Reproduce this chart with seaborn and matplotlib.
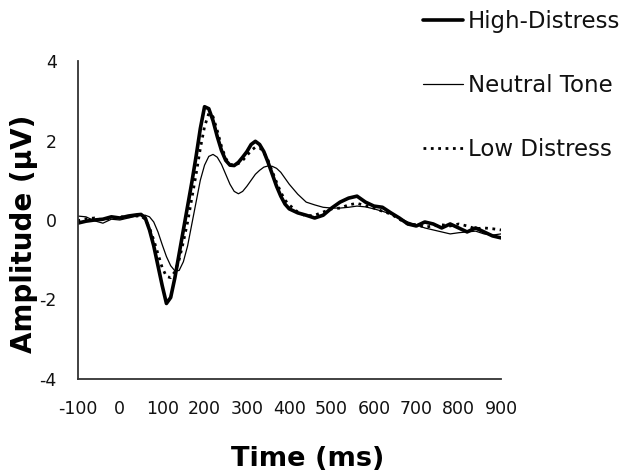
import matplotlib
matplotlib.use("Agg")
import matplotlib.pyplot as plt
import pandas as pd
import seaborn as sns

# time points (ms)
times = [-100, -80, -60, -40, -20, 0, 20, 40,
         50, 60, 70, 80, 90, 100, 110, 120, 130, 140, 150, 160, 170, 180,
         190, 200, 210, 220, 230, 240, 250, 260, 270, 280, 290, 300, 310,
         320, 330, 340, 350, 360, 370, 380, 390, 400,
         420, 440, 460, 480, 500, 520, 540, 560, 580, 600, 620, 640, 660,
         680, 700, 720, 740, 760, 780, 800, 820, 840, 860, 880, 900]

high_distress = [-0.08, -0.03, 0.0, 0.02, 0.08, 0.05, 0.1, 0.13,
                 0.14, 0.05, -0.25, -0.65, -1.15, -1.65, -2.1, -1.95, -1.45, -0.85, -0.25, 0.35, 0.95, 1.6,
                 2.3, 2.85, 2.8, 2.5, 2.1, 1.75, 1.5, 1.38, 1.37, 1.45, 1.58, 1.72, 1.9,
                 1.98, 1.9, 1.72, 1.45, 1.15, 0.85, 0.6, 0.4, 0.28,
                 0.18, 0.12, 0.05, 0.12, 0.3, 0.45, 0.55, 0.6, 0.45, 0.35, 0.32, 0.18, 0.05,
                 -0.1, -0.15, -0.05, -0.1, -0.2, -0.1, -0.2, -0.3, -0.2, -0.3, -0.4, -0.45]

neutral_tone = [0.1, 0.08, -0.02, -0.08, 0.02, 0.0, 0.05, 0.1,
                0.12, 0.12, 0.08, -0.05, -0.3, -0.62, -0.92, -1.15, -1.28, -1.27, -1.05, -0.65, -0.1, 0.45,
                1.0, 1.38, 1.6, 1.65, 1.58, 1.4, 1.15, 0.9, 0.72, 0.66, 0.72, 0.85, 1.0,
                1.15, 1.25, 1.33, 1.36, 1.35, 1.3, 1.2, 1.05, 0.9,
                0.65, 0.45, 0.38, 0.32, 0.3, 0.3, 0.32, 0.35, 0.33, 0.28, 0.22, 0.15, 0.05,
                -0.05, -0.12, -0.2, -0.25, -0.3, -0.35, -0.32, -0.3, -0.28, -0.35, -0.38, -0.35]

low_distress = [-0.02, 0.03, 0.05, 0.0, 0.05, 0.08, 0.08, 0.1,
                0.1, 0.02, -0.2, -0.5, -0.85, -1.2, -1.42, -1.45, -1.3, -1.0, -0.55, -0.05, 0.55, 1.15,
                1.8, 2.35, 2.68, 2.6, 2.25, 1.85, 1.55, 1.4, 1.38, 1.42, 1.5, 1.62, 1.75,
                1.83, 1.82, 1.7, 1.5, 1.22, 0.95, 0.7, 0.5, 0.38,
                0.2, 0.1, 0.12, 0.2, 0.28, 0.3, 0.38, 0.42, 0.36, 0.3, 0.22, 0.15, 0.02,
                -0.1, -0.12, -0.18, -0.15, -0.12, -0.15, -0.1, -0.15, -0.22, -0.2, -0.22, -0.25]

x_ticks = [-100, 0, 100, 200, 300, 400, 500, 600, 700, 800, 900]
y_ticks = [-4, -2, 0, 2, 4]

sns.set_style("white")
plt.rcParams['font.family'] = ['DejaVu Sans']
plt.rcParams['axes.unicode_minus'] = False
plt.rcParams['text.color'] = 'black'
plt.rcParams['axes.labelcolor'] = 'black'

fig = plt.figure(figsize=(6.38, 4.75), dpi=100)
ax = fig.add_axes([77.5 / 638, 1 - 379 / 475, 423.5 / 638, 318 / 475])

sns.lineplot(x=times, y=high_distress, ax=ax, color='black', linewidth=2.6, label='High-Distress')
sns.lineplot(x=times, y=neutral_tone, ax=ax, color='black', linewidth=0.9, label='Neutral Tone')
sns.lineplot(x=times, y=low_distress, ax=ax, color='black', linewidth=2.0, linestyle=':', label='Low Distress')

ax.set_xlim(-100, 900)
ax.set_ylim(-4, 4)
ax.set_xticks(x_ticks)
ax.set_yticks(y_ticks)
ax.tick_params(axis='both', direction='in', length=5, width=1, color='#333333',
               labelsize=12.5, pad=15, labelcolor='#111111')

for side in ['top', 'right']:
    ax.spines[side].set_visible(False)
for side in ['left', 'bottom']:
    ax.spines[side].set_color('#333333')
    ax.spines[side].set_linewidth(1.3)

ax.set_xlabel('Time (ms)', fontsize=19.5, fontweight='bold', color='black')
ax.xaxis.set_label_coords((308 - 77.5) / 423.5, (379 - 446) / 318)
ax.set_ylabel('Amplitude (µV)', fontsize=20, fontweight='bold', color='black')
ax.yaxis.set_label_coords((38 - 77.5) / 423.5, (379 - 234) / 318)

leg = ax.legend(loc='upper left', bbox_to_anchor=(423 / 638, 1 - 10 / 475),
                bbox_transform=fig.transFigure, frameon=False, fontsize=16.5,
                borderpad=0, borderaxespad=0, labelspacing=1.8,
                handlelength=1.75, handletextpad=0.2)
for txt in leg.get_texts():
    txt.set_color('#111111')

fig.savefig('out.png', dpi=100)
